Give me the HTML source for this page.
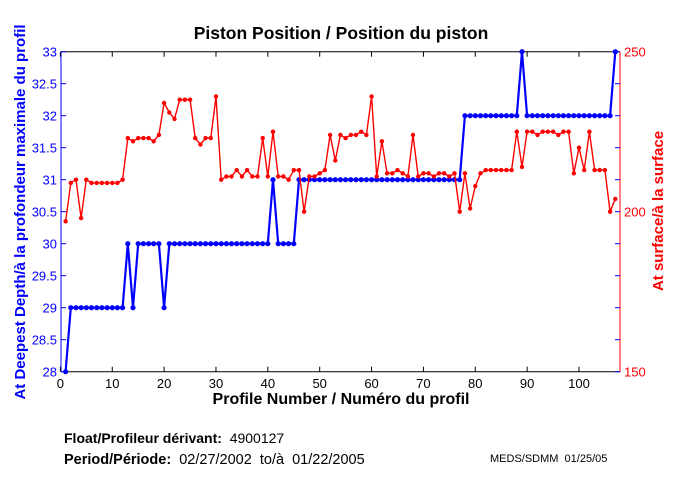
<!DOCTYPE html>
<html><head><meta charset="utf-8"><style>
html,body{margin:0;padding:0;background:#fff;}
svg{display:block;font-family:"Liberation Sans",Arial,sans-serif;}
.pre{white-space:pre;}
</style></head><body>
<svg id="s" width="680" height="500" viewBox="0 0 680 500" xmlns="http://www.w3.org/2000/svg">
<rect width="680" height="500" fill="#fff"/>
<text x="341" y="39" font-size="17.5" font-weight="bold" text-anchor="middle">Piston Position / Position du piston</text>
<g id="axes"></g>
<text x="341" y="404" font-size="16" font-weight="bold" text-anchor="middle">Profile Number / Numéro du profil</text>
<text transform="translate(25,212) rotate(-90)" font-size="15" font-weight="bold" fill="#0000ff" text-anchor="middle">At Deepest Depth/à la profondeur maximale du profil</text>
<text transform="translate(663,211) rotate(-90)" font-size="15" font-weight="bold" fill="#ff0000" text-anchor="middle">At surface/à la surface</text>
<text class="pre" x="64" y="443" font-size="14"><tspan font-weight="bold">Float/Profileur dérivant:</tspan>  4900127</text>
<text class="pre" x="64" y="464" font-size="14.5"><tspan font-weight="bold">Period/Période:</tspan>  02/27/2002  to/à  01/22/2005</text>
<text class="pre" x="490" y="462" font-size="11">MEDS/SDMM  01/25/05</text>
</svg>
<script>
var L=61,R=620,T=51.7,B=371.7;
function X(i){return 60.4+i*5.186;}
function YB(v){return B-(v-28)*64;}
function YR(v){return B-(v-150)*3.2;}
var blue=[];
for(var i=1;i<=107;i++){var v;
if(i==1)v=28;else if(i<=12)v=29;else if(i==13)v=30;else if(i==14)v=29;else if(i<=19)v=30;else if(i==20)v=29;else if(i<=40)v=30;else if(i==41)v=31;else if(i<=45)v=30;else if(i<=77)v=31;else if(i<=88)v=32;else if(i==89)v=33;else if(i<=106)v=32;else v=33;
blue.push(v);}
var red=[197,209,210,198,210,209,209,209,209,209,209,210,223,222,223,223,223,222,224,234,231,229,235,235,235,223,221,223,223,236,210,211,211,213,211,213,211,211,223,211,225,211,211,210,213,213,200,211,211,212,213,224,216,224,223,224,224,225,224,236,211,222,212,212,213,212,211,224,211,212,212,211,212,212,211,212,200,212,201,208,212,213,213,213,213,213,213,225,214,225,225,224,225,225,225,224,225,225,212,220,213,225,213,213,213,200,204];
var h='';
h+='<line x1="'+L+'" y1="'+T+'" x2="'+R+'" y2="'+T+'" stroke="#000"/>';
h+='<line x1="'+L+'" y1="'+B+'" x2="'+R+'" y2="'+B+'" stroke="#000"/>';
h+='<line x1="'+L+'" y1="'+T+'" x2="'+L+'" y2="'+B+'" stroke="#0000ff"/>';
h+='<line x1="'+R+'" y1="'+T+'" x2="'+R+'" y2="'+B+'" stroke="#ff0000"/>';
for(var k=0;k<=100;k+=10){var x=X(k);
h+='<line x1="'+x+'" y1="'+B+'" x2="'+x+'" y2="'+(B-5)+'" stroke="#000"/>';
h+='<line x1="'+x+'" y1="'+T+'" x2="'+x+'" y2="'+(T+5)+'" stroke="#000"/>';
h+='<text x="'+x+'" y="388" font-size="13" text-anchor="middle">'+k+'</text>';}
for(var j=0;j<=10;j++){var v=28+j*0.5,y=YB(v);
h+='<line x1="'+L+'" y1="'+y+'" x2="'+(L+5)+'" y2="'+y+'" stroke="#0000ff"/>';
h+='<line x1="'+R+'" y1="'+y+'" x2="'+(R-5)+'" y2="'+y+'" stroke="#0000ff"/>';
h+='<text x="57" y="'+(y+5)+'" font-size="13" fill="#0000ff" text-anchor="end">'+v+'</text>';}
[150,200,250].forEach(function(v){var y=YR(v);
h+='<text x="624" y="'+(y+5)+'" font-size="13" fill="#ff0000">'+v+'</text>';});
var p='';blue.forEach(function(v,i){p+=(i?'L':'M')+X(i+1).toFixed(1)+' '+YB(v).toFixed(1);});
h+='<path d="'+p+'" fill="none" stroke="#0000ff" stroke-width="2.2"/>';
blue.forEach(function(v,i){h+='<circle cx="'+X(i+1).toFixed(1)+'" cy="'+YB(v).toFixed(1)+'" r="2.6" fill="#0000ff"/>';});
p='';red.forEach(function(v,i){p+=(i?'L':'M')+X(i+1).toFixed(1)+' '+YR(v).toFixed(1);});
h+='<path d="'+p+'" fill="none" stroke="#ff0000" stroke-width="1.4"/>';
red.forEach(function(v,i){h+='<circle cx="'+X(i+1).toFixed(1)+'" cy="'+YR(v).toFixed(1)+'" r="2.2" fill="#ff0000"/>';});
document.getElementById('axes').innerHTML=h;
</script>
</body></html>
